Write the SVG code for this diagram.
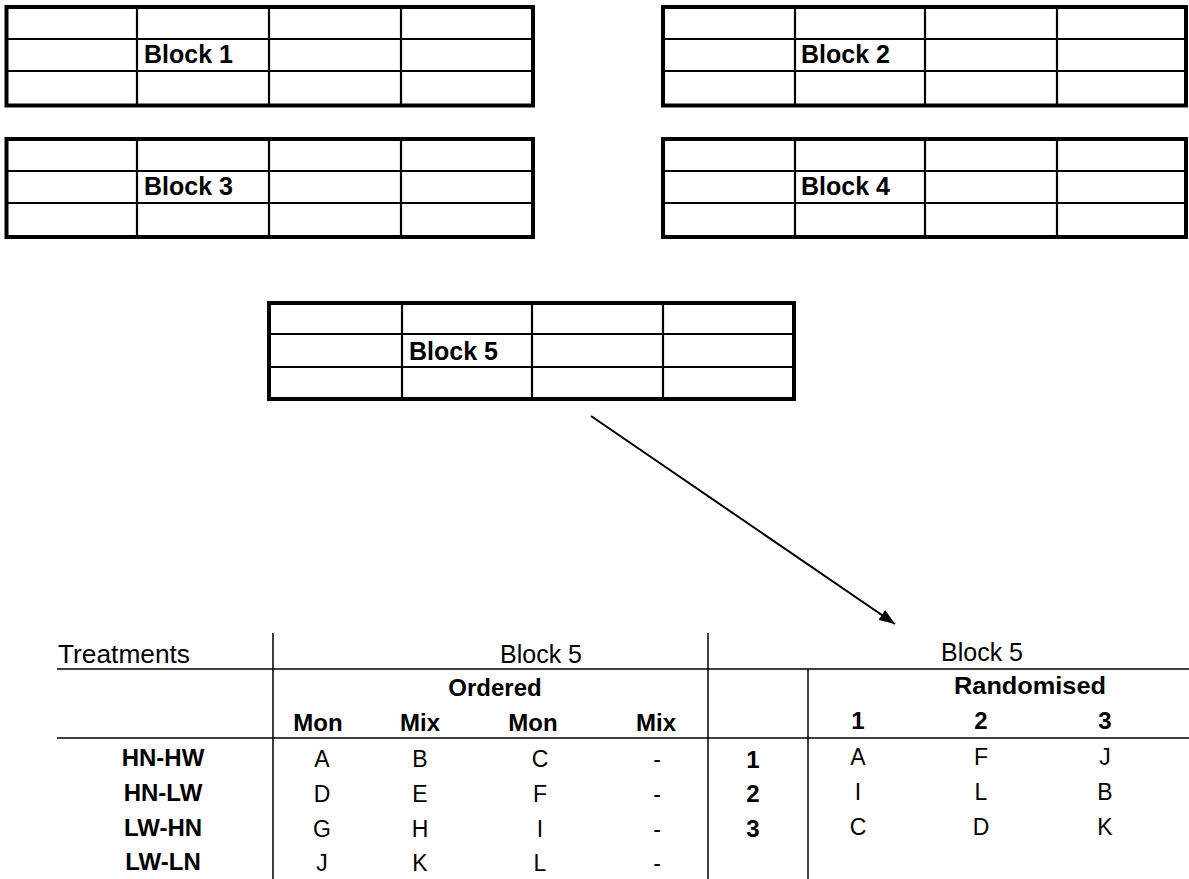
<svg xmlns="http://www.w3.org/2000/svg" width="1189" height="879" viewBox="0 0 1189 879">
  <defs>
    <style>
      .grid-outer { fill: none; stroke: #000; stroke-width: 4; }
      .grid-inner { stroke: #000; stroke-width: 2.2; }
      .block-label { font-family: "Liberation Sans", Arial, sans-serif; font-weight: bold; font-size: 25px; fill: #000; }
      .rule { stroke: #000; stroke-width: 1.5; }
      .txt { font-family: "Liberation Sans", Arial, sans-serif; fill: #000; }
      .head { font-size: 25px; }
      .sub { font-size: 24px; font-weight: bold; }
      .cell { font-size: 23px; }
      .mid { text-anchor: middle; }
    </style>
    <marker id="arrowhead" viewBox="0 0 16 12" refX="16" refY="6" markerWidth="16" markerHeight="12" markerUnits="userSpaceOnUse" orient="auto">
      <path d="M0,0 L16,6 L0,12 Z" fill="#000"/>
    </marker>
  </defs>

  <!-- Block 1 -->
  <g id="block1">
    <rect class="grid-outer" x="6.5" y="7" width="526.5" height="98.5"/>
    <line class="grid-inner" x1="6.5" y1="39" x2="533" y2="39"/>
    <line class="grid-inner" x1="6.5" y1="71" x2="533" y2="71"/>
    <line class="grid-inner" x1="137" y1="7" x2="137" y2="105.5"/>
    <line class="grid-inner" x1="269" y1="7" x2="269" y2="105.5"/>
    <line class="grid-inner" x1="401" y1="7" x2="401" y2="105.5"/>
    <text class="block-label" x="144" y="63">Block 1</text>
  </g>

  <!-- Block 2 -->
  <g id="block2">
    <rect class="grid-outer" x="663" y="7" width="523" height="98.5"/>
    <line class="grid-inner" x1="663" y1="39" x2="1186" y2="39"/>
    <line class="grid-inner" x1="663" y1="71" x2="1186" y2="71"/>
    <line class="grid-inner" x1="795" y1="7" x2="795" y2="105.5"/>
    <line class="grid-inner" x1="925" y1="7" x2="925" y2="105.5"/>
    <line class="grid-inner" x1="1057" y1="7" x2="1057" y2="105.5"/>
    <text class="block-label" x="801" y="63">Block 2</text>
  </g>

  <!-- Block 3 -->
  <g id="block3">
    <rect class="grid-outer" x="6.5" y="139" width="526.5" height="98"/>
    <line class="grid-inner" x1="6.5" y1="171" x2="533" y2="171"/>
    <line class="grid-inner" x1="6.5" y1="203" x2="533" y2="203"/>
    <line class="grid-inner" x1="137" y1="139" x2="137" y2="237"/>
    <line class="grid-inner" x1="269" y1="139" x2="269" y2="237"/>
    <line class="grid-inner" x1="401" y1="139" x2="401" y2="237"/>
    <text class="block-label" x="144" y="195">Block 3</text>
  </g>

  <!-- Block 4 -->
  <g id="block4">
    <rect class="grid-outer" x="663" y="139" width="523" height="98"/>
    <line class="grid-inner" x1="663" y1="171" x2="1186" y2="171"/>
    <line class="grid-inner" x1="663" y1="203" x2="1186" y2="203"/>
    <line class="grid-inner" x1="795" y1="139" x2="795" y2="237"/>
    <line class="grid-inner" x1="925" y1="139" x2="925" y2="237"/>
    <line class="grid-inner" x1="1057" y1="139" x2="1057" y2="237"/>
    <text class="block-label" x="801" y="195">Block 4</text>
  </g>

  <!-- Block 5 -->
  <g id="block5">
    <rect class="grid-outer" x="269" y="303" width="525" height="96"/>
    <line class="grid-inner" x1="269" y1="334" x2="794" y2="334"/>
    <line class="grid-inner" x1="269" y1="367" x2="794" y2="367"/>
    <line class="grid-inner" x1="402" y1="303" x2="402" y2="399"/>
    <line class="grid-inner" x1="532" y1="303" x2="532" y2="399"/>
    <line class="grid-inner" x1="663" y1="303" x2="663" y2="399"/>
    <text class="block-label" x="409" y="360">Block 5</text>
  </g>

  <!-- Connector from the field block to its layout table -->
  <g id="connectors">
    <line x1="591" y1="416" x2="895" y2="624" stroke="#000" stroke-width="2" marker-end="url(#arrowhead)"/>
  </g>

  <!-- Block 5 treatment layout table -->
  <g id="layout-table">
    <line class="rule" x1="273" y1="633" x2="273" y2="879"/>
    <line class="rule" x1="708" y1="633" x2="708" y2="879"/>
    <line class="rule" x1="808" y1="669" x2="808" y2="879"/>
    <line class="rule" x1="57" y1="669" x2="1189" y2="669"/>
    <line class="rule" x1="57" y1="738" x2="1189" y2="738"/>

    <text class="txt head" x="58" y="663" textLength="132" lengthAdjust="spacingAndGlyphs">Treatments</text>
    <text class="txt head mid" x="541" y="663">Block 5</text>
    <text class="txt head mid" x="982" y="661">Block 5</text>

    <text class="txt sub mid" x="495" y="696">Ordered</text>
    <text class="txt sub mid" x="1030" y="694" textLength="152" lengthAdjust="spacingAndGlyphs">Randomised</text>

    <text class="txt sub mid" x="318" y="731">Mon</text>
    <text class="txt sub mid" x="420" y="731">Mix</text>
    <text class="txt sub mid" x="533" y="731">Mon</text>
    <text class="txt sub mid" x="656" y="731">Mix</text>
    <text class="txt sub mid" x="858" y="729">1</text>
    <text class="txt sub mid" x="981" y="729">2</text>
    <text class="txt sub mid" x="1105" y="729">3</text>

    <text class="txt sub mid" x="163" y="766">HN-HW</text>
    <text class="txt sub mid" x="163" y="801">HN-LW</text>
    <text class="txt sub mid" x="163" y="836">LW-HN</text>
    <text class="txt sub mid" x="163" y="870">LW-LN</text>

    <text class="txt cell mid" x="322" y="767">A</text>
    <text class="txt cell mid" x="420" y="767">B</text>
    <text class="txt cell mid" x="540" y="767">C</text>
    <text class="txt cell mid" x="657" y="767">-</text>
    <text class="txt cell mid" x="322" y="802">D</text>
    <text class="txt cell mid" x="420" y="802">E</text>
    <text class="txt cell mid" x="540" y="802">F</text>
    <text class="txt cell mid" x="657" y="802">-</text>
    <text class="txt cell mid" x="322" y="837">G</text>
    <text class="txt cell mid" x="420" y="837">H</text>
    <text class="txt cell mid" x="540" y="837">I</text>
    <text class="txt cell mid" x="657" y="837">-</text>
    <text class="txt cell mid" x="322" y="871">J</text>
    <text class="txt cell mid" x="420" y="871">K</text>
    <text class="txt cell mid" x="540" y="871">L</text>
    <text class="txt cell mid" x="657" y="871">-</text>

    <text class="txt sub mid" x="753" y="768">1</text>
    <text class="txt sub mid" x="753" y="802">2</text>
    <text class="txt sub mid" x="753" y="837">3</text>

    <text class="txt cell mid" x="858" y="765">A</text>
    <text class="txt cell mid" x="981" y="765">F</text>
    <text class="txt cell mid" x="1105" y="765">J</text>
    <text class="txt cell mid" x="858" y="800">I</text>
    <text class="txt cell mid" x="981" y="800">L</text>
    <text class="txt cell mid" x="1105" y="800">B</text>
    <text class="txt cell mid" x="858" y="835">C</text>
    <text class="txt cell mid" x="981" y="835">D</text>
    <text class="txt cell mid" x="1105" y="835">K</text>
  </g>
</svg>
